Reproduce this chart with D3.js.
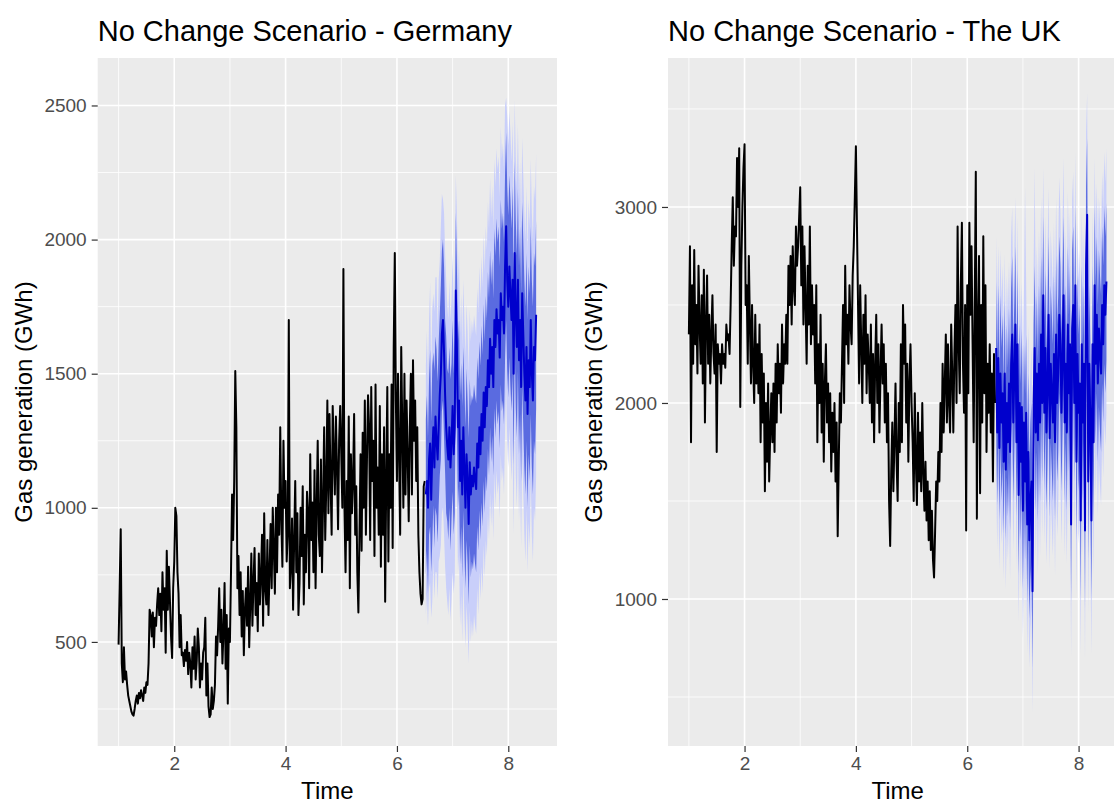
<!DOCTYPE html>
<html>
<head>
<meta charset="utf-8">
<script src="https://cdn.jsdelivr.net/npm/d3@7"></script>
<style>
  body { margin: 0; background: #fff; }
  text { font-family: "Liberation Sans", Arial, sans-serif; }
</style>
</head>
<body>
<svg id="chart" width="1114" height="805"></svg>
<script>
// weekly series, time in years starting at 1
const freq = 52;
const startTime = 1;

const xTicks = [2, 4, 6, 8];
const xMinor = [1, 3, 5, 7];

// Germany
const deYTicks = [500, 1000, 1500, 2000, 2500];
const deYMinor = [250, 750, 1250, 1750, 2250];
const deHist = [
  490, 700, 920, 420, 350, 480, 360, 390, 340, 300, 280, 260, 240,
  230, 225, 250, 280, 300, 270, 310, 290, 320, 300, 280, 330, 310,
  350, 340, 420, 620, 600, 520, 610, 480, 590, 560, 640, 700, 600,
  680, 540, 760, 620, 700, 460, 840, 620, 780, 650, 520, 440, 700,
  800, 1000, 970, 760, 680, 480, 600, 450, 460, 410, 470, 430, 500,
  380, 460, 420, 330, 480, 400, 520, 360, 430, 550, 480, 330, 420,
  360, 460, 480, 590, 300, 420, 260, 220, 230, 330, 250, 280, 340,
  520, 450, 560, 700, 500, 620, 420, 540, 720, 400, 600, 270, 550,
  500, 760, 1050, 880, 1100, 1510, 1300, 700, 820, 600, 760, 520, 690,
  450, 620, 700, 560, 780, 480, 640, 830, 560, 720, 850, 600, 720,
  540, 830, 640, 750, 900, 560, 980, 700, 640, 880, 600, 760, 940,
  700, 1000, 850, 680, 1000, 760, 1050, 900, 1300, 960, 780, 1250, 1000,
  1100, 800, 900, 1700, 700, 780, 960, 620, 880, 1100, 760, 980, 600,
  720, 1000, 820, 1080, 640, 900, 760, 1060, 980, 700, 1200, 880, 1020,
  760, 1140, 700, 1000, 1250, 900, 820, 1180, 760, 1020, 1300, 880, 1080,
  1400, 980, 1350, 1100, 900, 1380, 1200, 1050, 1340, 1150, 920, 1250, 1380,
  1200, 1000, 1890, 1000, 760, 1100, 880, 1340, 700, 1200, 980, 1100, 1350,
  900, 1080, 760, 610, 900, 1200, 840, 1280, 1000, 1400, 900, 1180, 1420,
  1300, 880, 1450, 1100, 1250, 820, 1460, 1000, 1150, 900, 1380, 780, 1200,
  900, 1300, 650, 1100, 1450, 800, 1200, 1000, 1460, 850, 1600, 1950, 1400,
  1100, 1500, 1200, 900, 1600, 1300, 1000, 1500, 1050, 1400, 1200, 950, 1300,
  1500, 1050, 1550, 1250, 1400, 1100, 1300, 900, 760, 680, 640, 660, 1080,
  1100
];
const deMean = [
  1050, 1100, 1000, 1180, 1240, 1030, 1200, 1300, 1150, 1340, 1250, 1180, 1300,
  1420, 1500, 1650, 1700, 1580, 1420, 1300, 1230, 1180, 1300, 1150, 1250, 1380,
  1200, 1300, 1810, 1600, 1300, 1400, 1100, 1250, 1050, 1300, 1150, 1000, 1200,
  1100, 940, 1170, 1050, 1120, 1080, 1150, 1100, 1070, 1240, 1150, 1300, 1200,
  1350, 1250, 1430, 1300, 1450, 1380, 1550, 1450, 1630, 1500, 1600, 1450, 1700,
  1600, 1740, 1650, 1700, 1560, 1800, 1700, 1750, 1650, 1900, 2050, 1850, 1750,
  1900, 1800, 1700, 1850, 1500, 1950, 1720, 1600, 1850, 1550, 1700, 1450, 1800,
  1650, 1500, 1400, 1600, 1350, 1550, 1450, 1700, 1500, 1400, 1600, 1550, 1720
];
const deHi80 = [
  1330, 1420, 1260, 1480, 1590, 1320, 1530, 1580, 1510, 1640, 1590, 1470, 1620,
  1720, 1830, 1960, 2000, 1900, 1700, 1640, 1520, 1500, 1600, 1480, 1540, 1700,
  1500, 1640, 2100, 1900, 1620, 1700, 1420, 1540, 1380, 1600, 1460, 1300, 1520,
  1400, 1260, 1480, 1380, 1420, 1400, 1460, 1420, 1390, 1560, 1480, 1620, 1530,
  1680, 1570, 1760, 1620, 1790, 1700, 1880, 1780, 1960, 1830, 1930, 1780, 2040,
  1940, 2080, 1990, 2050, 1900, 2150, 2040, 2100, 1990, 2250, 2400, 2200, 2090,
  2240, 2150, 2040, 2200, 1850, 2290, 2070, 1940, 2190, 1900, 2050, 1800, 2140,
  2000, 1850, 1750, 1950, 1700, 1900, 1800, 2050, 1850, 1750, 1950, 1900, 2070
];
const deLo80 = [
  750, 840, 680, 900, 930, 760, 870, 1010, 850, 1000, 970, 870, 1010,
  1120, 1180, 1360, 1400, 1260, 1130, 980, 950, 880, 1000, 840, 960, 1060,
  900, 980, 1500, 1280, 1000, 1080, 790, 930, 740, 990, 830, 700, 880,
  790, 640, 860, 740, 800, 770, 830, 790, 760, 930, 840, 990, 880,
  1020, 930, 1100, 980, 1120, 1060, 1220, 1120, 1300, 1170, 1270, 1120, 1370,
  1260, 1400, 1310, 1360, 1220, 1460, 1360, 1400, 1310, 1560, 1700, 1510, 1410,
  1560, 1450, 1360, 1500, 1160, 1610, 1370, 1260, 1510, 1200, 1350, 1100, 1460,
  1300, 1150, 1050, 1250, 1000, 1200, 1100, 1350, 1150, 1050, 1250, 1200, 1370
];
const deHi95 = [
  1530, 1660, 1450, 1700, 1840, 1500, 1740, 1800, 1730, 1860, 1860, 1660, 1850,
  1920, 2050, 2170, 2150, 2100, 1950, 1850, 1760, 1700, 1850, 1700, 1780, 1950,
  1740, 1880, 2240, 2100, 1850, 1960, 1650, 1800, 1600, 1850, 1700, 1560, 1760,
  1660, 1500, 1740, 1620, 1700, 1650, 1720, 1680, 1640, 1820, 1730, 1900, 1780,
  1940, 1820, 2020, 1880, 2050, 1960, 2140, 2040, 2230, 2080, 2200, 2040, 2300,
  2200, 2340, 2260, 2310, 2160, 2420, 2300, 2360, 2260, 2500, 2530, 2460, 2350,
  2480, 2400, 2290, 2440, 2100, 2520, 2310, 2190, 2430, 2150, 2290, 2050, 2380,
  2240, 2100, 2000, 2200, 1950, 2150, 2050, 2300, 2100, 2000, 2200, 2150, 2320
];
const deLo95 = [
  600, 680, 560, 700, 720, 590, 650, 800, 660, 760, 760, 660, 800,
  820, 860, 980, 1000, 900, 780, 700, 650, 600, 700, 580, 660, 760,
  680, 740, 1200, 1020, 760, 820, 560, 680, 500, 740, 600, 480, 640,
  560, 420, 620, 500, 580, 520, 600, 560, 530, 700, 600, 760, 660,
  780, 680, 860, 740, 880, 820, 980, 880, 1060, 930, 1040, 880, 1130,
  1000, 1140, 1050, 1100, 960, 1200, 1100, 1150, 1050, 1300, 1450, 1250, 1150,
  1300, 1200, 1100, 1250, 900, 1350, 1120, 1000, 1250, 950, 1100, 850, 1200,
  1060, 900, 800, 1000, 760, 950, 850, 1100, 900, 800, 1000, 950, 1120
];

// The UK
const ukYTicks = [1000, 2000, 3000];
const ukYMinor = [500, 1500, 2500, 3500];
const ukHist = [
  2350, 2800, 1800, 2600, 2200, 2780, 2300, 2500, 2150, 2700, 2400, 2200, 2550,
  2100, 2680, 1900, 2400, 2650, 2200, 2450, 2100, 2350, 2550, 2250, 2150, 2400,
  1750, 2300, 2200, 2250, 2100, 2300, 2200, 2250, 2180, 2400, 2320, 2350, 2250,
  2500, 2800, 3050, 2700, 2900, 2850, 3250, 3000, 3300, 1980, 2700, 3000, 3200,
  3320, 2500, 2600, 2200, 2750, 2400, 2100, 2500, 2200, 2000, 2450, 2100, 2300,
  2050, 2400, 1800, 2250, 1900, 2150, 1550, 2000, 1700, 2100, 1600, 1850, 2050,
  1800, 2100, 1750, 2200, 1900, 2300, 2050, 2200, 1950, 2400, 2100, 2300, 2200,
  2450, 2200, 2700, 2500, 2750, 2400, 2800, 2600, 2500, 2900, 2700, 2800, 2950,
  3100, 2600, 2900, 2400, 2800, 2500, 2200, 2700, 2400, 2900, 2300, 2600, 2350,
  2500, 2100, 2600, 1800, 2300, 2000, 2450, 1850, 2200, 1700, 2100, 2300, 1900,
  2100, 1800, 2050, 1650, 1950, 1750, 2000, 1600, 1900, 1320, 1700, 2050, 1900,
  2200, 2500, 2000, 2700, 2300, 2450, 2200, 2600, 2400, 2300, 2650, 2800, 3050,
  3310, 2900, 2500, 2100, 2600, 2300, 2000, 2450, 2200, 2550, 2050, 2350, 2200,
  2000, 2400, 1900, 2250, 1800, 2200, 2450, 2000, 2300, 1850, 2150, 2400, 2100,
  2300, 1900, 2200, 1800, 2050, 1500, 1270, 1650, 1900, 1550, 1800, 2100, 1700,
  1500, 2000, 1750, 2300, 1800, 2500, 2200, 2400, 1900, 2200, 1700, 2100, 2300,
  2000, 1800, 1500, 2050, 1700, 1480, 1950, 1600, 1850, 1550, 2000, 1650, 1450,
  1700, 1400, 1600, 1300, 1550, 1250, 1450, 1200, 1110, 1350, 1600, 1500, 1750,
  1600, 2000, 1750, 2200, 1850, 2100, 2350, 1900, 2300, 2000, 1850, 2400, 2150,
  1850, 2250, 2500, 2000, 2900, 2300, 2050, 2600, 2920, 2200, 1950, 2500, 1350,
  2600, 2050, 2920, 2450, 2800, 2300, 1800, 2500, 3180, 1410, 2400, 2750, 1540,
  2500, 1900, 2850, 2050, 2600, 1750, 2200, 1950, 2300, 1850, 2150, 1600, 2250,
  2000
];
const ukMean = [
  2280, 1850, 2230, 1770, 2150, 1900, 2050, 1700, 2150, 1660, 2000, 1800, 2100,
  1750, 2200, 2350, 1900, 2150, 2400, 1800, 2300, 1530, 2000, 1700, 1980, 1450,
  1900, 1600, 1950, 1380, 1750, 1300, 1500, 1600, 1040, 2000, 2280, 1850, 2150,
  1810, 2200, 1900, 2350, 2000, 2550, 1950, 2280, 1850, 2100, 2450, 1820, 2200,
  2050, 1900, 2250, 1800, 2350, 2000, 2150, 2450, 2300, 1950, 2250, 2550, 1900,
  2200, 1850, 2400, 2050, 2300, 1380, 2380, 2500, 2000, 2600, 1700, 2250, 1950,
  2100, 1400, 2300, 1900, 2200, 1350, 2700, 2960, 1600, 2200, 1900, 1400, 2300,
  1800, 2600, 2200, 2450, 2100, 2380, 2250, 2150, 2500, 2300, 2600, 2450, 2620
];
const ukHi80 = [
  2620, 2250, 2600, 2150, 2550, 2280, 2450, 2100, 2520, 2050, 2400, 2180, 2480,
  2150, 2580, 2750, 2300, 2520, 2800, 2200, 2680, 1950, 2400, 2100, 2380, 1850,
  2300, 2050, 2350, 1800, 2150, 1700, 1900, 2000, 1450, 2400, 2700, 2250, 2550,
  2220, 2600, 2300, 2750, 2400, 2950, 2350, 2680, 2250, 2500, 2850, 2220, 2600,
  2450, 2300, 2650, 2200, 2750, 2400, 2550, 2850, 2700, 2350, 2650, 2950, 2300,
  2600, 2250, 2800, 2450, 2700, 1800, 2780, 2900, 2400, 3000, 2100, 2650, 2350,
  2500, 1800, 2700, 2300, 2600, 1750, 3100, 3350, 2000, 2600, 2300, 1800, 2700,
  2200, 3000, 2600, 2850, 2500, 2780, 2650, 2550, 2900, 2700, 3000, 2850, 3020
];
const ukLo80 = [
  1900, 1480, 1850, 1400, 1780, 1500, 1680, 1330, 1760, 1300, 1620, 1420, 1700,
  1350, 1820, 1950, 1500, 1760, 2000, 1420, 1900, 1120, 1600, 1300, 1580, 1050,
  1500, 1200, 1550, 980, 1350, 900, 1100, 1200, 650, 1600, 1880, 1450, 1750,
  1400, 1800, 1500, 1950, 1600, 2150, 1550, 1880, 1450, 1700, 2050, 1420, 1800,
  1650, 1500, 1850, 1400, 1950, 1600, 1750, 2050, 1900, 1550, 1850, 2150, 1500,
  1800, 1450, 2000, 1650, 1900, 980, 1980, 2100, 1600, 2200, 1300, 1850, 1550,
  1700, 1000, 1900, 1500, 1800, 950, 2300, 2550, 1200, 1800, 1500, 1000, 1900,
  1400, 2200, 1800, 2050, 1700, 1980, 1850, 1750, 2100, 1900, 2200, 2050, 2220
];
const ukHi95 = [
  2850, 2500, 2800, 2420, 2780, 2520, 2700, 2350, 2760, 2300, 2650, 2450, 2720,
  2400, 2850, 3000, 2550, 2780, 3050, 2450, 2950, 2200, 2650, 2380, 2620, 2100,
  2580, 3100, 2620, 2050, 2400, 1980, 2150, 2280, 1700, 2680, 3200, 2500, 2800,
  2480, 2880, 2560, 3050, 2680, 3200, 2620, 2950, 2500, 2780, 3100, 2480, 2880,
  2720, 2580, 2920, 2480, 3050, 2680, 2820, 3150, 2980, 2620, 2920, 3250, 2560,
  2880, 2520, 3080, 2720, 2980, 2080, 3050, 3180, 2680, 3280, 2380, 2920, 2620,
  2780, 2080, 2980, 2580, 2880, 2050, 3380, 3580, 2280, 2880, 2580, 2080, 2980,
  2480, 3250, 2880, 3120, 2780, 3050, 2920, 2820, 3180, 2980, 3280, 3120, 3300
];
const ukLo95 = [
  1650, 1250, 1620, 1150, 1500, 1280, 1420, 1100, 1550, 1050, 1380, 1200, 1480,
  1100, 1560, 1700, 1250, 1500, 1750, 1150, 1650, 880, 1350, 1050, 1330, 800,
  1220, 950, 1300, 720, 1100, 650, 850, 950, 420, 1350, 1600, 1200, 1500,
  1120, 1550, 1220, 1680, 1320, 1850, 1280, 1600, 1180, 1420, 1780, 1150, 1520,
  1380, 1220, 1580, 1120, 1680, 1320, 1480, 1780, 1620, 1280, 1580, 1880, 1220,
  1520, 1180, 1720, 1380, 1620, 700, 1700, 1820, 1320, 1920, 1020, 1580, 1280,
  1420, 720, 1620, 1220, 1520, 680, 2020, 2250, 920, 1520, 1220, 720, 1620,
  1120, 1920, 1520, 1780, 1420, 1700, 1580, 1480, 1820, 1620, 1920, 1780, 1950
];

const svg = d3.select("#chart");

function drawPanel(p) {
  const left = p.left, right = p.left + 459.3, top = 58, bottom = 746;

  const x = d3.scaleLinear().domain([0.625, 8.875]).range([left, right]);
  const y = d3.scaleLinear().domain(p.yDomain).range([bottom, top]);

  const g = svg.append("g");

  g.append("rect")
    .attr("x", left).attr("y", top)
    .attr("width", right - left).attr("height", bottom - top)
    .attr("fill", "#EBEBEB");

  // grid
  g.selectAll(".ymin").data(p.yMinor).enter().append("line")
    .attr("x1", left).attr("x2", right)
    .attr("y1", (d) => y(d)).attr("y2", (d) => y(d))
    .attr("stroke", "#fff").attr("stroke-width", 0.8);
  g.selectAll(".xmin").data(xMinor).enter().append("line")
    .attr("y1", top).attr("y2", bottom)
    .attr("x1", (d) => x(d)).attr("x2", (d) => x(d))
    .attr("stroke", "#fff").attr("stroke-width", 0.8);
  g.selectAll(".ymaj").data(p.yTicks).enter().append("line")
    .attr("x1", left).attr("x2", right)
    .attr("y1", (d) => y(d)).attr("y2", (d) => y(d))
    .attr("stroke", "#fff").attr("stroke-width", 1.6);
  g.selectAll(".xmaj").data(xTicks).enter().append("line")
    .attr("y1", top).attr("y2", bottom)
    .attr("x1", (d) => x(d)).attr("x2", (d) => x(d))
    .attr("stroke", "#fff").attr("stroke-width", 1.6);

  const histT = (i) => startTime + i / freq;
  const fcT = (i) => startTime + (p.hist.length + i) / freq;

  const fc = p.mean.map((m, i) => ({
    t: fcT(i), m: m,
    lo80: p.lo80[i], hi80: p.hi80[i], lo95: p.lo95[i], hi95: p.hi95[i]
  }));

  // history
  g.append("path")
    .datum(p.hist)
    .attr("fill", "none").attr("stroke", "#000").attr("stroke-width", 2)
    .attr("stroke-linejoin", "round")
    .attr("d", d3.line().x((d, i) => x(histT(i))).y((d) => y(d)));

  // bands
  g.append("path").datum(fc)
    .attr("fill", "#C9CFFA")
    .attr("d", d3.area().x((d) => x(d.t)).y0((d) => y(d.lo95)).y1((d) => y(d.hi95)));
  g.append("path").datum(fc)
    .attr("fill", "#5A6BE0")
    .attr("d", d3.area().x((d) => x(d.t)).y0((d) => y(d.lo80)).y1((d) => y(d.hi80)));

  g.append("path").datum(fc)
    .attr("fill", "none").attr("stroke", "#0000CC").attr("stroke-width", 2)
    .attr("stroke-linejoin", "round")
    .attr("d", d3.line().x((d) => x(d.t)).y((d) => y(d.m)));

  // axes
  const ax = g.append("g")
    .attr("transform", `translate(0,${bottom})`)
    .call(d3.axisBottom(x).tickValues(xTicks).tickSize(6).tickPadding(5).tickFormat(d3.format("d")));
  const ay = g.append("g")
    .attr("transform", `translate(${left},0)`)
    .call(d3.axisLeft(y).tickValues(p.yTicks).tickSize(6).tickPadding(5).tickFormat(d3.format("d")));
  [ax, ay].forEach((a) => {
    a.select(".domain").remove();
    a.selectAll(".tick line").attr("stroke", "#333").attr("stroke-width", 1.2);
    a.selectAll(".tick text")
      .attr("fill", "#4D4D4D")
      .style("font-size", "19px")
      .style("font-family", '"Liberation Sans", Arial, sans-serif');
  });

  // titles
  svg.append("text")
    .attr("x", left).attr("y", 41)
    .style("font-size", "29px").attr("fill", "#000")
    .text(p.title);
  svg.append("text")
    .attr("x", (left + right) / 2).attr("y", 799)
    .attr("text-anchor", "middle")
    .style("font-size", "24px").attr("fill", "#000")
    .text("Time");
  svg.append("text")
    .attr("transform", `translate(${left - 66},${(top + bottom) / 2}) rotate(-90)`)
    .attr("text-anchor", "middle")
    .style("font-size", "24px").attr("fill", "#000")
    .text("Gas generation (GWh)");
}

drawPanel({
  title: "No Change Scenario - Germany",
  left: 97.7,
  yDomain: [112, 2677],
  yTicks: deYTicks, yMinor: deYMinor,
  hist: deHist, mean: deMean,
  lo80: deLo80, hi80: deHi80, lo95: deLo95, hi95: deHi95
});

drawPanel({
  title: "No Change Scenario - The UK",
  left: 668,
  yDomain: [250, 3760],
  yTicks: ukYTicks, yMinor: ukYMinor,
  hist: ukHist, mean: ukMean,
  lo80: ukLo80, hi80: ukHi80, lo95: ukLo95, hi95: ukHi95
});
</script>
</body>
</html>
